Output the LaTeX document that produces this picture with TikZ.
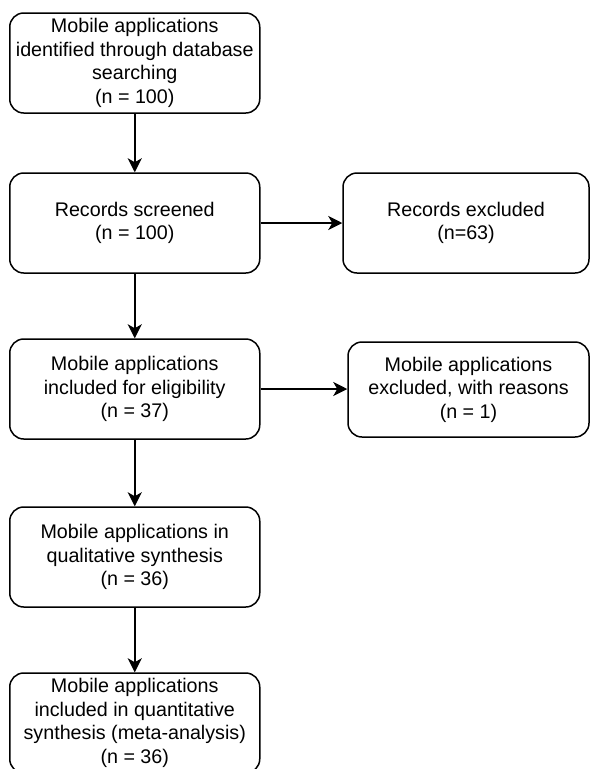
\documentclass[tikz,border=0pt]{standalone}
\usepackage{fontspec}
\setmainfont{Liberation Sans}
\usetikzlibrary{arrows.meta}
\begin{document}
\begin{tikzpicture}[x=1pt,y=-1pt,
  box/.style={draw, line width=1.5pt, rounded corners=14pt, align=center,
    font=\fontsize{19.7}{23.6}\selectfont, inner sep=0pt,
    minimum height=100pt, minimum width=250pt},
  flow/.style={-{Stealth[length=14pt,width=14pt,inset=4pt]}, line width=1.5pt}]
\useasboundingbox (0,0) rectangle (590,769);
\clip (0,0) rectangle (590,769);

% main column
\node[box] (ident) at (134.75,63) {Mobile applications\\identified through database\\searching\\(n = 100)};
\node[box] (screen) at (134.75,223) {Records screened\\(n = 100)};
\node[box] (elig) at (134.75,389) {Mobile applications\\included for eligibility\\(n = 37)};
\node[box] (qual) at (134.75,557) {Mobile applications in\\qualitative synthesis\\(n = 36)};
\node[box] (quant) at (134.75,723) {Mobile applications\\included in quantitative\\synthesis (meta-analysis)\\(n = 36)};

% side column
\node[box, minimum width=246pt] (excl) at (466,223) {Records excluded\\(n=63)};
\node[box, minimum width=241pt, minimum height=95pt] (reas) at (468.5,389.5) {Mobile applications\\excluded, with reasons\\(n = 1)};

% connectors
\draw[flow] (ident) -- (screen);
\draw[flow] (screen) -- (elig);
\draw[flow] (elig) -- (qual);
\draw[flow] (qual) -- (quant);
\draw[flow] (screen) -- (excl);
\draw[flow] (elig.east) -- (reas.west |- elig.east);
\end{tikzpicture}
\end{document}
